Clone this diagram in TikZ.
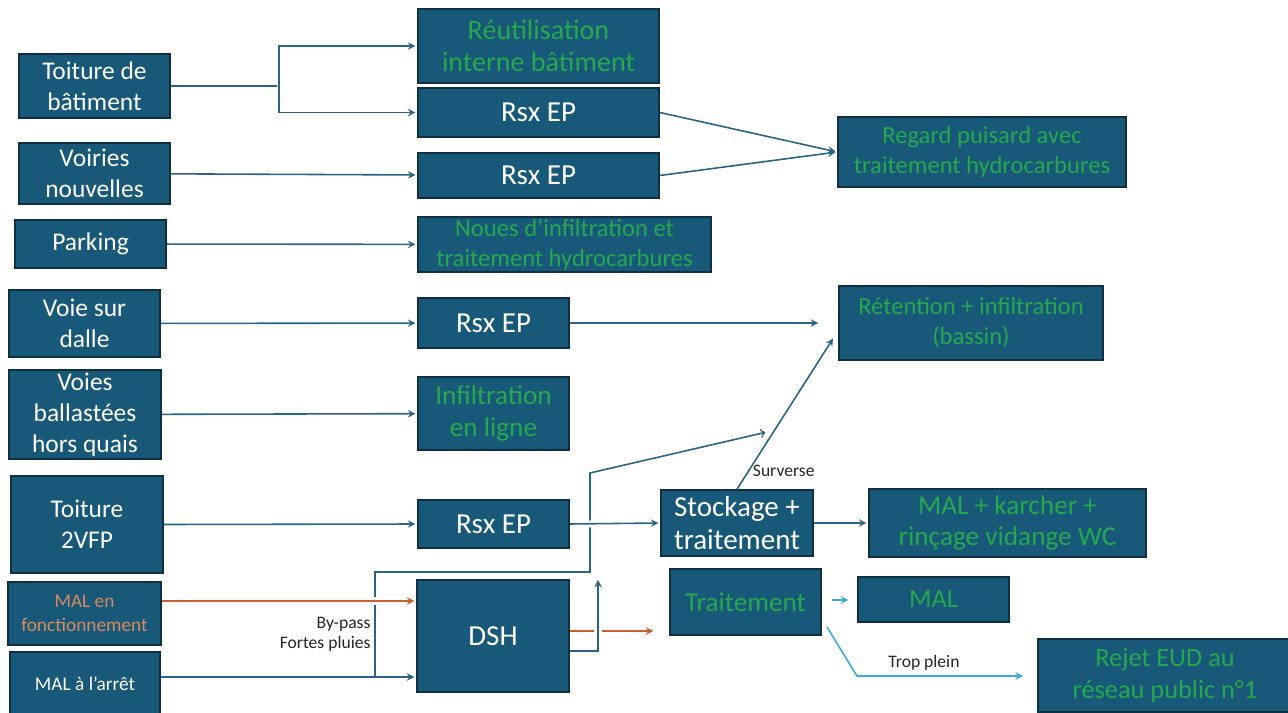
\documentclass[tikz,border=0pt]{standalone}
\usepackage{fontspec}
\setmainfont{Carlito}
\usetikzlibrary{shapes,arrows,positioning}
\definecolor{boxblue}{RGB}{24,88,120}
\definecolor{boxedge}{RGB}{16,48,66}
\definecolor{grntxt}{RGB}{38,168,78}
\definecolor{linkc}{RGB}{42,100,130}
\definecolor{orangec}{RGB}{200,95,45}
\definecolor{orangetxt}{RGB}{214,140,96}
\definecolor{skyc}{RGB}{58,170,222}

\begin{document}
\begin{tikzpicture}[->, shorten >=1pt, >=stealth, x=0.02cm, y=-0.02cm, line width=0.9pt, color=linkc,
	box/.style={rectangle, draw=boxedge, fill=boxblue, text=white, align=center, inner sep=1pt, line width=1pt,
		font=\fontsize{14.5}{17.6}\selectfont},
	bigbox/.style={box, font=\fontsize{16.5}{19}\selectfont},
	grnbox/.style={box, text=grntxt, font=\fontsize{14}{17}\selectfont},
	small/.style={text=black!85, font=\fontsize{10}{11.5}\selectfont, align=right, inner sep=1pt},
	hop/.style={preaction={draw=white, line width=4pt, -, shorten >=6pt, shorten <=6pt}}]
	\useasboundingbox (0,0) rectangle (1288,713);

	% sources
	\node[box, minimum width=3.02cm, minimum height=1.28cm] (toit)   at (94.5,86)    {Toiture de\\bâtiment};
	\node[box, minimum width=3.02cm, minimum height=1.22cm] (voir)   at (94.5,173.5) {Voiries\\nouvelles};
	\node[box, minimum width=3.02cm, minimum height=0.96cm] (park)   at (90.5,244)   {Parking};
	\node[box, minimum width=3.02cm, minimum height=1.34cm] (dalle)  at (84.5,323.5) {Voie sur\\dalle};
	\node[box, minimum width=3.04cm, minimum height=1.78cm] (ball)   at (85,414.5)   {Voies\\ballastées\\hors quais};
	\node[box, minimum width=3.04cm, minimum height=1.94cm] (vfp)    at (87,524.5)   {Toiture\\2VFP};
	\node[box, text=orangetxt, font=\fontsize{11}{14}\selectfont, minimum width=3.06cm, minimum height=1.26cm] (malon)  at (84.5,613.5) {MAL en\\fonctionnement};
	\node[box, font=\fontsize{11}{14}\selectfont, minimum width=3.0cm, minimum height=1.28cm] (maloff) at (85,684)     {MAL à l’arrêt};

	% ouvrages
	\node[grnbox, font=\fontsize{16}{18.5}\selectfont, minimum width=4.82cm, minimum height=1.48cm] (reut)  at (538.5,46) {Réutilisation\\interne bâtiment};
	\node[bigbox, minimum width=4.82cm, minimum height=0.98cm] (rsxa)  at (538.5,112.5) {Rsx EP};
	\node[bigbox, minimum width=4.82cm, minimum height=0.90cm] (rsxb)  at (538.5,175.5) {Rsx EP};
	\node[grnbox, minimum width=5.86cm, minimum height=1.10cm] (noues) at (564.5,244.5) {Noues d’infiltration et\\traitement hydrocarbures};
	\node[grnbox, minimum width=5.76cm, minimum height=1.40cm] (regard) at (982,152) {Regard puisard avec\\traitement hydrocarbures};
	\node[bigbox, minimum width=3.02cm, minimum height=1.00cm] (rsxc)  at (493.5,323)   {Rsx EP};
	\node[grnbox, font=\fontsize{15.5}{18.5}\selectfont, minimum width=3.02cm, minimum height=1.46cm] (infil) at (493.5,413.5) {Infiltration\\en ligne};
	\node[bigbox, minimum width=3.02cm, minimum height=0.96cm] (rsxd)  at (493.5,524)   {Rsx EP};
	\node[bigbox, minimum width=3.04cm, minimum height=2.24cm] (dsh)   at (493,636)     {DSH};
	\node[grnbox, minimum width=5.28cm, minimum height=1.48cm] (reten) at (971,323) {Rétention + infiltration\\(bassin)};
	\node[bigbox, minimum width=3.04cm, minimum height=1.32cm] (stock) at (737,523) {Stockage +\\traitement};
	\node[grnbox, font=\fontsize{15.5}{18}\selectfont, minimum width=5.54cm, minimum height=1.36cm] (karch) at (1007.5,523) {MAL + karcher +\\rinçage vidange WC};
	\node[grnbox, font=\fontsize{15.5}{18}\selectfont, minimum width=3.02cm, minimum height=1.32cm] (trait) at (745.5,602) {Traitement};
	\node[grnbox, font=\fontsize{15}{18}\selectfont, minimum width=3.02cm, minimum height=0.90cm] (mal)   at (933.5,599.5) {MAL};
	\node[grnbox, font=\fontsize{15}{18}\selectfont, minimum width=5.08cm, minimum height=1.46cm] (rejet) at (1165,675.5) {Rejet EUD au\\réseau public n°1};

	% points libres
	\coordinate (split) at (279,86);
	\coordinate (retin) at (820,323);
	\coordinate (retlow) at (834,337);
	\coordinate (bp0) at (375,677);
	\coordinate (bp1) at (375,572);
	\coordinate (bp2) at (590,572);
	\coordinate (bp3) at (590,473);
	\coordinate (bpend) at (767,432);
	\coordinate (up0) at (598,651);
	\coordinate (up1) at (598,578);
	\coordinate (tp0) at (827,627);
	\coordinate (tp1) at (857,676);

	\draw[-] (toit.east) -- (split);
	\draw (split) |- (reut.west);
	\draw (split) |- (rsxa.west);
	\path 	(voir) edge (rsxb)
	(park) edge (noues)
	(rsxa.east) edge (regard.west)
	(rsxb.east) edge (regard.west)
	(dalle) edge (rsxc)
	(rsxc) edge (retin)
	(ball) edge (infil)
	(vfp.east) edge (rsxd.west)
	(stock) edge (karch)
	(stock.north) edge node[small, pos=0.12, right, xshift=1pt] {Surverse} (retlow);

	% by-pass fortes pluies
	\draw ([yshift=0.14cm]maloff.east) -- ([yshift=0.14cm]maloff.east -| dsh.west);
	\draw[-to] (bp0) -- (bp1) -- (bp2) -- (bp3) -- (bpend);
	\node[small, anchor=east] (bplab) at (373,634) {By-pass\\Fortes pluies};
	\draw[hop] (rsxd.east) -- (stock.west);
	\draw[hop, orangec] ([yshift=0.25cm]malon.east) -- ([yshift=0.25cm]malon.east -| dsh.west);
	\draw[orangec, shorten >=9pt] ([yshift=0.1cm]dsh.east) -- ([yshift=0.1cm]dsh.east -| trait.west);
	\draw[hop] (up0 -| dsh.east) -- (up0) -- (up1);

	% eaux traitees
	\draw[skyc, shorten <=6pt, shorten >=5pt] ([yshift=0.04cm]trait.east) -- ([yshift=0.04cm]trait.east -| mal.west);
	\draw[skyc, shorten >=8pt] (tp0) -- (tp1) -- (tp1 -| rejet.west);
	\node[small] (tplab) at (924,663) {Trop plein};
\end{tikzpicture}
\end{document}
